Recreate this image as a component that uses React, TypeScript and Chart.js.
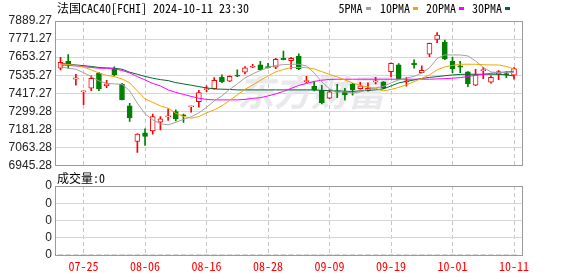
import React, { useEffect, useRef } from 'react';
import { Chart, registerables } from 'chart.js';

Chart.register(...registerables);

// ---------------- data ----------------
const dates = [
  '07-22', '07-23', '07-24', '07-25', '07-26', '07-29', '07-30', '07-31',
  '08-01', '08-02', '08-05', '08-06', '08-07', '08-08', '08-09', '08-12', '08-13', '08-14', '08-15', '08-16',
  '08-19', '08-20', '08-21', '08-22', '08-23', '08-26', '08-27', '08-28', '08-29', '08-30',
  '09-02', '09-03', '09-04', '09-05', '09-06', '09-09', '09-10', '09-11', '09-12', '09-13',
  '09-16', '09-17', '09-18', '09-19', '09-20', '09-23', '09-24', '09-25', '09-26', '09-27', '09-30',
  '10-01', '10-02', '10-03', '10-04', '10-07', '10-08', '10-09', '10-10', '10-11',
];

const openP = [
  7580.5, 7626.1, 7508.7, 7426.1, 7450.0, 7547.8, 7465.2, 7573.9, 7476.0, 7334.7,
  7102.0, 7158.6, 7171.6, 7228.2, 7262.9, 7297.7, 7276.0, 7328.2, 7362.8, 7441.3,
  7447.8, 7521.7, 7495.6, 7534.8, 7554.4, 7587.0, 7602.2, 7589.2, 7587.0, 7645.7,
  7630.5, 7660.9, 7493.5, 7463.0, 7434.8, 7384.7, 7432.6, 7426.1, 7476.0, 7447.8,
  7434.8, 7491.3, 7491.3, 7558.7, 7602.2, 7491.3, 7613.1, 7552.2, 7671.8, 7769.7,
  7752.3, 7626.1, 7595.7, 7556.5, 7469.6, 7565.2, 7489.1, 7541.3, 7545.7, 7534.8,
];
const highP = [
  7652.2, 7669.6, 7541.3, 7432.6, 7530.4, 7554.4, 7502.2, 7589.2, 7482.6, 7352.1,
  7154.2, 7184.7, 7280.4, 7265.1, 7315.1, 7308.6, 7280.4, 7333.0, 7436.9, 7465.2,
  7519.6, 7537.0, 7530.4, 7569.6, 7591.3, 7606.6, 7626.1, 7613.1, 7645.7, 7693.5,
  7652.2, 7674.0, 7528.3, 7493.5, 7469.6, 7439.1, 7476.0, 7450.0, 7482.6, 7489.1,
  7484.8, 7521.7, 7493.5, 7615.3, 7610.9, 7521.7, 7634.8, 7595.7, 7745.7, 7813.2,
  7765.3, 7652.2, 7626.1, 7558.7, 7573.9, 7587.0, 7530.4, 7565.2, 7558.7, 7584.8,
];
const lowP = [
  7569.6, 7580.5, 7469.6, 7343.4, 7434.8, 7434.8, 7454.3, 7530.4, 7373.9, 7232.5,
  7030.3, 7075.9, 7149.9, 7178.2, 7239.0, 7236.9, 7226.0, 7293.4, 7326.0, 7428.2,
  7443.5, 7487.0, 7493.5, 7526.1, 7543.5, 7584.8, 7569.6, 7580.5, 7578.3, 7634.8,
  7576.1, 7571.8, 7487.0, 7432.6, 7347.8, 7382.6, 7389.1, 7371.7, 7404.3, 7443.5,
  7430.4, 7478.2, 7447.8, 7526.1, 7511.0, 7463.0, 7580.5, 7550.0, 7656.6, 7747.9,
  7637.0, 7552.2, 7552.2, 7460.9, 7467.4, 7513.0, 7482.6, 7506.5, 7519.6, 7508.7,
];
const closeP = [
  7619.6, 7606.6, 7517.4, 7430.4, 7515.2, 7445.6, 7478.2, 7537.0, 7376.0, 7256.4,
  7149.9, 7134.6, 7265.1, 7249.9, 7267.3, 7249.9, 7269.5, 7332.5, 7421.7, 7447.8,
  7502.2, 7493.5, 7528.3, 7528.3, 7582.6, 7593.5, 7569.6, 7584.8, 7639.2, 7637.0,
  7645.7, 7578.3, 7500.0, 7436.9, 7356.5, 7426.1, 7423.9, 7408.6, 7441.3, 7465.2,
  7450.0, 7497.8, 7450.0, 7613.1, 7513.0, 7497.8, 7604.4, 7567.4, 7743.6, 7797.9,
  7641.4, 7578.3, 7587.0, 7480.4, 7537.0, 7571.8, 7521.7, 7558.7, 7537.0, 7578.3,
];

const ma5 = [
  7591.1, 7580.7, 7574.2, 7552.0, 7525.9, 7497.8, 7482.8, 7478.2, 7476.3, 7432.6,
  7352.4, 7282.5, 7243.4, 7217.2, 7210.8, 7227.0, 7246.7, 7263.0, 7289.1, 7325.0,
  7367.4, 7400.0, 7442.4, 7478.2, 7517.4, 7543.5, 7566.3, 7585.9, 7599.0, 7604.2,
  7606.8, 7606.8, 7595.7, 7550.0, 7491.3, 7445.6, 7426.1, 7426.1, 7419.5, 7426.1,
  7442.4, 7452.2, 7461.9, 7484.8, 7504.3, 7517.4, 7527.2, 7550.0, 7582.6, 7644.6,
  7667.4, 7667.4, 7667.4, 7660.9, 7628.3, 7585.9, 7556.5, 7552.0, 7554.6, 7552.0,
];
const ma10 = [
  7608.7, 7605.5, 7599.0, 7589.2, 7569.6, 7550.0, 7533.7, 7525.9, 7510.9, 7484.8,
  7432.6, 7380.4, 7357.6, 7334.7, 7319.7, 7285.8, 7266.2, 7254.5, 7264.9, 7289.1,
  7308.6, 7334.7, 7370.6, 7406.5, 7442.4, 7471.7, 7501.1, 7530.4, 7556.5, 7572.8,
  7584.6, 7585.9, 7584.6, 7576.2, 7558.5, 7540.3, 7524.0, 7504.3, 7484.8, 7468.5,
  7458.7, 7448.9, 7432.6, 7442.4, 7455.4, 7471.7, 7493.3, 7514.1, 7537.0, 7569.6,
  7589.2, 7599.0, 7606.8, 7606.8, 7606.8, 7603.5, 7602.2, 7602.2, 7592.4, 7576.2,
];
const ma20 = [
  7602.2, 7599.0, 7595.7, 7590.5, 7585.9, 7580.7, 7580.7, 7576.2, 7566.3, 7550.0,
  7525.9, 7504.3, 7481.5, 7465.2, 7439.2, 7422.8, 7409.8, 7396.7, 7385.0, 7377.1,
  7373.9, 7373.9, 7373.9, 7373.9, 7377.1, 7383.7, 7388.2, 7400.0, 7413.0, 7429.3,
  7448.9, 7468.5, 7481.5, 7494.6, 7502.4, 7507.6, 7508.9, 7508.9, 7508.9, 7508.9,
  7508.9, 7508.9, 7508.9, 7508.9, 7508.9, 7508.9, 7508.9, 7508.9, 7508.9, 7510.9,
  7512.9, 7515.4, 7519.3, 7527.2, 7535.0, 7540.2, 7548.1, 7552.0, 7556.5, 7561.1,
];
const ma30 = [
  7613.3, 7606.8, 7602.2, 7597.6, 7592.4, 7585.9, 7582.6, 7580.7, 7574.2, 7554.6,
  7541.5, 7527.2, 7515.4, 7506.3, 7499.8, 7486.7, 7478.2, 7469.8, 7460.6, 7452.2,
  7445.6, 7443.7, 7442.4, 7439.2, 7439.2, 7439.2, 7439.2, 7439.2, 7439.2, 7439.2,
  7439.2, 7439.2, 7439.2, 7439.2, 7435.9, 7433.9, 7432.6, 7430.6, 7429.3, 7432.6,
  7435.9, 7439.2, 7445.6, 7465.2, 7484.8, 7494.6, 7504.3, 7514.1, 7520.7, 7525.9,
  7531.7, 7537.0, 7540.2, 7541.5, 7541.5, 7541.5, 7541.5, 7541.5, 7537.0, 7530.4,
];

const volume = [
  0, 0, 0, 0, 0, 0, 0, 0, 0, 0, 0, 0, 0, 0, 0, 0, 0, 0, 0, 0,
  0, 0, 0, 0, 0, 0, 0, 0, 0, 0, 0, 0, 0, 0, 0, 0, 0, 0, 0, 0,
  0, 0, 0, 0, 0, 0, 0, 0, 0, 0, 0, 0, 0, 0, 0, 0, 0, 0, 0, 0,
];

const yTickValues = [6945.28, 7063.28, 7181.28, 7299.28, 7417.27, 7535.27, 7653.27, 7771.27, 7889.27];
const yTickLabels = ['6945.28', '7063.28', '7181.28', '7299.28', '7417.27', '7535.27', '7653.27', '7771.27', '7889.27'];
const xTickLabels = ['07-25', '08-06', '08-16', '08-28', '09-09', '09-19', '10-01', '10-11'];
const volTickValues = [0, 0.25, 0.5, 0.75, 1];
const volTickLabels = ['0', '0', '0', '0', '0'];

const titleCn = '法国';
const titleRest = 'CAC40[FCHI] 2024-10-11 23:30';
const maLabels = ['5PMA', '10PMA', '20PMA', '30PMA'];
const volTitle = '成交量:0';
const watermark = '东方财富';

// ---------------- styles ----------------
const MONO = '"Noto Sans Mono CJK SC", "DejaVu Sans Mono", monospace';
const CJK = '"Noto Sans CJK SC", sans-serif';
const SANS = '"Liberation Sans", Arial, sans-serif';
const UP = '#ff0000';
const DOWN = '#008000';
const MA_COLORS = ['#a0a0a0', '#f5a500', '#ff00ff', '#006a30'];
const HGRID = '#d6d6d6';
const VGRID = '#c6c6c6';
const FRAME = '#9a9a9a';
const LABEL = '#222222';

const X_MIN = -0.7156;
const X_MAX = 60.04;
const Y_MIN = 6945.28;
const Y_MAX = 7889.27;
const LEGEND_X = [338.5, 380, 426, 472];

const xTickIdx = xTickLabels.map((d) => dates.indexOf(d));

function drawFrame(chart: any) {
  const { ctx, chartArea: a } = chart;
  ctx.save();
  ctx.strokeStyle = FRAME;
  ctx.lineWidth = 1;
  const l = Math.round(a.left) + 0.5;
  const t = Math.round(a.top) + 0.5;
  const r = Math.round(a.right) + 0.5;
  const b = Math.floor(a.bottom) + 0.5;
  ctx.strokeRect(l, t, r - l, b - t);
  ctx.restore();
}

const topDecor = {
  id: 'topDecor',
  beforeDatasetsDraw(chart: any) {
    const { ctx } = chart;
    ctx.save();
    ctx.font = 'italic bold 37px ' + CJK;
    ctx.fillStyle = '#e9e9ed';
    ctx.textAlign = 'center';
    ctx.textBaseline = 'middle';
    ctx.fillText(watermark, 311, 92);
    ctx.restore();
  },
  afterDraw(chart: any) {
    const { ctx } = chart;
    drawFrame(chart);
    ctx.save();
    ctx.fillStyle = '#000';
    ctx.textBaseline = 'middle';
    ctx.textAlign = 'left';
    ctx.font = '12px ' + CJK;
    ctx.fillText(titleCn, 57, 8.5);
    const w = ctx.measureText(titleCn).width;
    ctx.font = '12px ' + MONO;
    ctx.fillText(titleRest, 57 + w, 8.5);
    maLabels.forEach((lab, i) => {
      ctx.fillStyle = '#000';
      ctx.font = '12px ' + MONO;
      const x = LEGEND_X[i];
      ctx.fillText(lab, x, 8.5);
      const tw = ctx.measureText(lab).width;
      ctx.fillStyle = MA_COLORS[i];
      ctx.fillRect(Math.round(x + tw + 3), 7, 5, 3);
    });
    ctx.restore();
  },
};

const botDecor = {
  id: 'botDecor',
  afterDraw(chart: any) {
    const { ctx } = chart;
    drawFrame(chart);
    ctx.save();
    ctx.fillStyle = '#000';
    ctx.textBaseline = 'middle';
    ctx.textAlign = 'left';
    const cn = volTitle.slice(0, 3);
    const rest = volTitle.slice(3);
    ctx.font = '12px ' + CJK;
    ctx.fillText(cn, 57, 6.5);
    const w = ctx.measureText(cn).width;
    ctx.font = '12px ' + MONO;
    ctx.fillText(rest, 57 + w, 6.5);
    ctx.restore();
  },
};

function makeTop(canvas: HTMLCanvasElement) {
  const isUp = (i: number) => closeP[i] >= openP[i];
  const bodyData = dates.map((_, i) => ({ x: i, y: [openP[i], closeP[i]] }));
  const wickData = dates.map((_, i) => ({ x: i, y: [lowP[i], highP[i]] }));
  const maSets = [ma5, ma10, ma20, ma30].map((arr, k) => ({
    type: 'line' as const,
    label: maLabels[k],
    data: arr.map((v, i) => ({ x: i, y: v })),
    borderColor: MA_COLORS[k],
    borderWidth: 1,
    pointRadius: 0,
    tension: 0,
    fill: false,
    order: 0,
  }));
  return new Chart(canvas, {
    type: 'bar',
    data: {
      datasets: [
        ...maSets,
        {
          type: 'bar',
          label: 'body',
          data: bodyData as any,
          backgroundColor: dates.map((_, i) => (isUp(i) ? '#ffffff' : DOWN)),
          borderColor: dates.map((_, i) => (isUp(i) ? UP : DOWN)),
          borderWidth: 1,
          borderSkipped: false,
          barThickness: 5,
          minBarLength: 1,
          grouped: false,
          order: 1,
        },
        {
          type: 'bar',
          label: 'wick',
          data: wickData as any,
          backgroundColor: dates.map((_, i) => (isUp(i) ? UP : DOWN)),
          borderWidth: 0,
          barThickness: 1,
          grouped: false,
          order: 2,
        },
      ] as any,
    },
    options: {
      responsive: false,
      animation: false,
      devicePixelRatio: 1,
      events: [],
      layout: { padding: { left: 0, right: 56, top: 21, bottom: 10.5 } },
      plugins: { legend: { display: false }, tooltip: { enabled: false }, title: { display: false } },
      scales: {
        x: {
          type: 'linear',
          min: X_MIN,
          max: X_MAX,
          offset: false,
          bounds: 'data',
          afterBuildTicks: (s: any) => { s.ticks = xTickIdx.map((v) => ({ value: v })); },
          afterFit: (s: any) => { s.height = 0; },
          ticks: { display: false, autoSkip: false },
          grid: { color: VGRID, drawTicks: false, offset: false, lineWidth: 1 },
          border: { display: false, dash: [4, 3] },
        },
        y: {
          type: 'linear',
          min: Y_MIN,
          max: Y_MAX,
          beginAtZero: false,
          bounds: 'data',
          afterBuildTicks: (s: any) => { s.ticks = yTickValues.map((v) => ({ value: v })); },
          afterFit: (s: any) => { s.width = 55; },
          ticks: {
            autoSkip: false,
            padding: 3,
            color: LABEL,
            font: { family: SANS, size: 12 },
            callback: (_v: any, i: number) => yTickLabels[i],
          },
          grid: { color: HGRID, drawTicks: false, lineWidth: 1 },
          border: { display: false },
        },
      },
    } as any,
    plugins: [topDecor],
  });
}

function makeBottom(canvas: HTMLCanvasElement) {
  return new Chart(canvas, {
    type: 'bar',
    data: {
      datasets: [
        {
          label: 'volume',
          data: volume.map((v, i) => ({ x: i, y: v })) as any,
          backgroundColor: '#808080',
          barThickness: 5,
          grouped: false,
        },
      ],
    },
    options: {
      responsive: false,
      animation: false,
      devicePixelRatio: 1,
      events: [],
      layout: { padding: { left: 0, right: 56, top: 14, bottom: 0 } },
      plugins: { legend: { display: false }, tooltip: { enabled: false } },
      scales: {
        x: {
          type: 'linear',
          min: X_MIN,
          max: X_MAX,
          offset: false,
          bounds: 'data',
          afterBuildTicks: (s: any) => { s.ticks = xTickIdx.map((v) => ({ value: v })); },
          afterFit: (s: any) => { s.height = 21; },
          ticks: {
            autoSkip: false,
            maxRotation: 0,
            padding: 4,
            color: UP,
            font: { family: MONO, size: 12 },
            callback: (v: any) => dates[v] ?? '',
          },
          grid: { color: VGRID, drawTicks: false, offset: false, lineWidth: 1 },
          border: { display: false, dash: [4, 3] },
        },
        y: {
          type: 'linear',
          min: 0,
          max: 1,
          beginAtZero: true,
          bounds: 'data',
          afterBuildTicks: (s: any) => { s.ticks = volTickValues.map((v) => ({ value: v })); },
          afterFit: (s: any) => { s.width = 55; },
          ticks: {
            autoSkip: false,
            padding: 3,
            color: LABEL,
            font: { family: SANS, size: 12 },
            callback: (_v: any, i: number) => volTickLabels[i],
          },
          grid: { color: HGRID, drawTicks: false, lineWidth: 1 },
          border: { display: false },
        },
      },
    } as any,
    plugins: [botDecor],
  });
}

export default function App() {
  const topRef = useRef<HTMLCanvasElement>(null);
  const botRef = useRef<HTMLCanvasElement>(null);
  useEffect(() => {
    const c1 = makeTop(topRef.current!);
    const c2 = makeBottom(botRef.current!);
    return () => {
      c1.destroy();
      c2.destroy();
    };
  }, []);
  return (
    <div style={{ position: 'absolute', left: 0, top: 0, width: 578, height: 276, background: '#ffffff', overflow: 'hidden' }}>
      <canvas ref={topRef} width={578} height={176} style={{ position: 'absolute', left: 0, top: 0 }} />
      <canvas ref={botRef} width={578} height={104} style={{ position: 'absolute', left: 0, top: 172 }} />
    </div>
  );
}
